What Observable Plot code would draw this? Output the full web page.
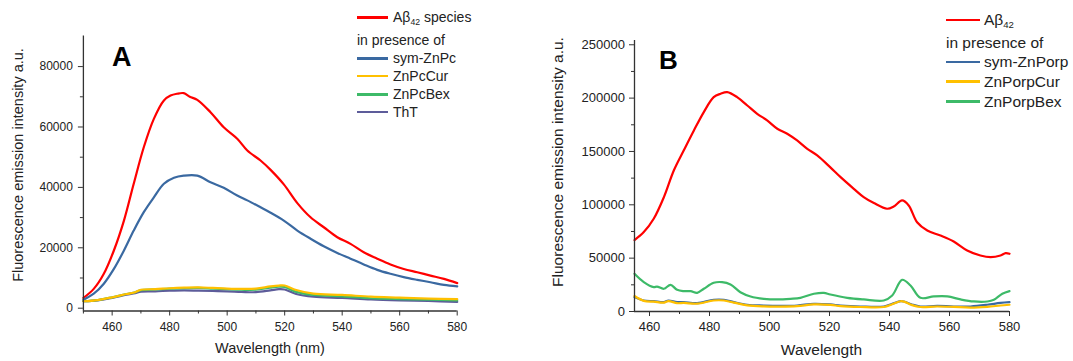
<!DOCTYPE html>
<html>
<head>
<meta charset="utf-8">
<script src="https://cdn.jsdelivr.net/npm/d3@7"></script>
<script src="https://cdn.jsdelivr.net/npm/@observablehq/plot@0.6"></script>
<style>
  html, body { margin: 0; padding: 0; background: #fff; }
  #root { position: relative; width: 1073px; height: 361px; background: #fff; overflow: hidden;
          font-family: "Liberation Sans", Arial, sans-serif; color: #222; }
  .abs { position: absolute; white-space: nowrap; line-height: 1; }
  .row { position: absolute; display: flex; align-items: center; white-space: nowrap; line-height: 1; }
  .sw { display: inline-block; height: 2.8px; }
  sub { font-size: 0.62em; vertical-align: -0.3em; line-height: 0; }
</style>
</head>
<body>
<div id="root"></div>
<script>
// ---------------- Panel A data (wavelength nm, intensity a.u.) ----------------
const aAbeta = [[450,3400],[453.6,6400],[457.1,11400],[460.6,19100],[464.1,29000],[467.5,41200],[471,53300],[474.5,62700],[478,68800],[480.3,70400],[482.5,71000],[484.9,71200],[487,70000],[489.6,69000],[494.2,64900],[498.8,59900],[503.5,56100],[507,52200],[511.6,48900],[515.1,45800],[519.7,41000],[524.4,34800],[529,30100],[533.6,26800],[538.3,23500],[542.9,21300],[547.5,18500],[552.2,16400],[556.8,14500],[561.4,13000],[566.1,11900],[570.7,10800],[575.4,9700],[580,8300]];
const aSymZnPc = [[450,2800],[453.6,4800],[457.1,8100],[460.6,13000],[464.1,19100],[467.5,25700],[471,31800],[474.5,36700],[478,41200],[481.5,43200],[484.9,43900],[489.6,43900],[494.2,41700],[498.8,39900],[503.5,37300],[507,35700],[511.6,33400],[515.1,31600],[519.7,29000],[524.4,25700],[529,23000],[533.6,20500],[538.3,18300],[542.9,16400],[547.5,14500],[552.2,12700],[556.8,11400],[561.4,10300],[566.1,9400],[570.7,8600],[575.4,7700],[580,7200]];
const aZnPcCur = [[450,2300],[455,2700],[460,3600],[465,4700],[468,5300],[470,6100],[475,6300],[480,6600],[485,6800],[490,6900],[495,6700],[500,6500],[505,6400],[510,6500],[515,7200],[518,7500],[520,7500],[524,6000],[530,4800],[540,4400],[550,3800],[560,3500],[570,3200],[580,3000]];
const aZnPcBex = [[450,2300],[455,2700],[460,3600],[465,4700],[468,5300],[470,6000],[475,6200],[480,6500],[485,6600],[490,6700],[495,6500],[500,6300],[505,6100],[510,6100],[515,6800],[518,7100],[520,7000],[524,5400],[530,4400],[540,3900],[550,3300],[560,3000],[570,2800],[580,2600]];
const aThT = [[450,2300],[455,2600],[460,3400],[465,4500],[468,5000],[470,5500],[475,5600],[480,5800],[485,5900],[490,5800],[495,5700],[500,5600],[505,5400],[510,5300],[515,5900],[518,6300],[520,6200],[524,4700],[530,3800],[540,3400],[550,2900],[560,2600],[570,2400],[580,2100]];

// ---------------- Panel B data ----------------
const bAbeta = [[455,67000],[458.1,74400],[461.4,86900],[464.8,107200],[468.1,132200],[471.4,150900],[474.8,169700],[478.1,186900],[481.4,200900],[483.7,204100],[485.9,205600],[489.2,200900],[492.6,193100],[495.9,185300],[499.2,179100],[502.6,171300],[505.9,166600],[509.2,160300],[512.6,152500],[515.9,146300],[520.2,135300],[523.7,125900],[528.1,115000],[531.4,107200],[534.8,101600],[539.2,96300],[541.4,98400],[544.2,104100],[546.4,99400],[549.2,83700],[552.6,75900],[557,71200],[561.4,65600],[565.9,57200],[570.3,52500],[573.7,50900],[577,52500],[578.7,54700],[580,54100]];
const bSymZnPorp = [[455,13500],[458.1,10300],[461.4,9700],[464.8,8800],[466.3,10300],[469.2,8800],[471.4,8800],[475.9,7800],[481.4,11000],[484.8,11000],[488.1,8800],[492.6,6300],[498.1,5600],[503.7,5300],[509.2,5600],[514.8,7200],[520.3,6600],[523.7,5600],[530.3,4700],[538.1,4700],[540.9,7200],[543.7,9700],[544.8,9400],[547.5,6600],[550.3,4700],[555.9,5300],[561.4,4700],[567,4700],[572.6,6300],[577,8100],[580,8800]];
const bZnPorpCur = [[455,14500],[458.1,10000],[461.4,9200],[464.8,8300],[466.3,9800],[469.2,7800],[471.4,8000],[475.9,7300],[481.4,10300],[484.8,10300],[488.1,8300],[492.6,5800],[498.1,4800],[503.7,4600],[509.2,5000],[514.8,6600],[520.3,6200],[523.7,5000],[530.3,4200],[538.1,4200],[540.9,6800],[543.7,9600],[544.8,9300],[547.5,6000],[550.3,4200],[555.9,4700],[561.4,4300],[567,3700],[572.6,4400],[577,5600],[580,6300]];
const bZnPorpBex = [[455,35300],[458.1,27500],[461.4,22800],[462.5,23400],[464.8,21300],[467,25000],[469.2,20300],[471.4,19100],[473.7,19100],[475.9,17500],[478.1,21300],[481.4,26900],[484.2,27500],[487,25300],[490.3,18100],[493.7,14100],[498.1,11900],[502.6,11300],[507,11900],[510.3,12800],[514.8,16600],[518.1,17500],[520.3,15900],[525.9,12800],[531.4,11300],[538.1,10300],[540.9,15000],[544.2,29700],[547,24400],[550.3,12800],[554.8,14100],[559.3,14100],[563.7,11300],[568.1,9400],[572.6,9400],[574.8,11000],[577.6,16600],[580,19100]];

// ---------------- Ticks ----------------
const aXMajor = [460, 480, 500, 520, 540, 560, 580];
const aXMinor = [450, 470, 490, 510, 530, 550, 570];
const aYMajor = [0, 20000, 40000, 60000, 80000];
const aYMinor = [10000, 30000, 50000, 70000];
const bXMajor = [460, 480, 500, 520, 540, 560, 580];
const bXMinor = [470, 490, 510, 530, 550, 570];
const bYMajor = [0, 50000, 100000, 150000, 200000, 250000];
const bYMinor = [25000, 75000, 125000, 175000, 225000];

// ---------------- Colours / labels ----------------
const RED = "#ff0000", BLUE = "#3a69a1", YELLOW = "#ffc000", GREEN = "#3dba68", PURPLE = "#5d5c9a";
const aSeries = [
  {data: aAbeta, color: RED},
  {data: aSymZnPc, color: BLUE},
  {data: aThT, color: PURPLE},
  {data: aZnPcBex, color: GREEN},
  {data: aZnPcCur, color: YELLOW}
];
const bSeries = [
  {data: bAbeta, color: RED},
  {data: bZnPorpBex, color: GREEN},
  {data: bSymZnPorp, color: BLUE},
  {data: bZnPorpCur, color: YELLOW}
];
const aLegend = [
  {label: "Aβ<sub>42</sub> species", color: RED},
  {label: "in presence of", color: null},
  {label: "sym-ZnPc", color: BLUE},
  {label: "ZnPcCur", color: YELLOW},
  {label: "ZnPcBex", color: GREEN},
  {label: "ThT", color: PURPLE}
];
const bLegend = [
  {label: "Aβ<sub>42</sub>", color: RED},
  {label: "in presence of", color: null},
  {label: "sym-ZnPorp", color: BLUE},
  {label: "ZnPorpCur", color: YELLOW},
  {label: "ZnPorpBex", color: GREEN}
];
const yTitle = "Fluorescence emission intensity a.u.";

const AXIS = "#333";
const fmt = d3.format("d");

function panel(o) {
  const svg = Plot.plot({
    width: o.width, height: 361,
    marginTop: o.mt, marginBottom: o.mb, marginLeft: o.ml, marginRight: o.mr,
    x: {domain: o.xDomain},
    y: {domain: o.yDomain},
    style: {fontFamily: "'Liberation Sans', Arial, sans-serif", fontSize: o.fs + "px", color: "#222", background: "transparent", overflow: "visible"},
    marks: [
      ...o.series.map(s => Plot.line(s.data, {x: d => d[0], y: d => d[1], stroke: s.color, strokeWidth: 2.2, curve: o.curve})),
      Plot.axisX(o.xMajor, {tickSize: 5, tickPadding: o.xPad, label: null, stroke: AXIS, tickFormat: fmt, fontSize: o.fs}),
      Plot.axisX(o.xMinor, {tickSize: 3, label: null, stroke: AXIS, fill: "none"}),
      Plot.axisY(o.yMajor, {tickSize: 5, tickPadding: o.yPad, label: null, stroke: AXIS, tickFormat: fmt, fontSize: o.fs}),
      Plot.axisY(o.yMinor, {tickSize: 3, label: null, stroke: AXIS, fill: "none"}),
      Plot.ruleX([o.xDomain[0]], {stroke: AXIS, strokeWidth: 1.3}),
      Plot.ruleY([o.yDomain[0]], {stroke: AXIS, strokeWidth: 1.3})
    ]
  });
  svg.style.position = "absolute";
  svg.style.left = o.left + "px";
  svg.style.top = "0px";
  return svg;
}

const root = document.getElementById("root");

root.appendChild(panel({
  left: 0, width: 536, ml: 82.9, mr: 79.3, mt: 35.5, mb: 50.5,
  xDomain: [450, 580], yDomain: [-930, 90130],
  xMajor: aXMajor, xMinor: aXMinor, yMajor: aYMajor, yMinor: aYMinor,
  series: aSeries, fs: 12, xPad: 6, yPad: 5.5, curve: "catmull-rom"
}));
root.appendChild(panel({
  left: 537, width: 536, ml: 97, mr: 64, mt: 40, mb: 50,
  xDomain: [455, 580], yDomain: [0, 254000],
  xMajor: bXMajor, xMinor: bXMinor, yMajor: bYMajor, yMinor: bYMinor,
  series: bSeries, fs: 13, xPad: 5.5, yPad: 4.5, curve: "catmull-rom"
}));

function addText(html, x, y, fs, opts = {}) {
  const d = document.createElement("div");
  d.className = "abs";
  d.innerHTML = html;
  d.style.fontSize = fs + "px";
  d.style.left = x + "px";
  d.style.top = y + "px";
  let t = "translate(-50%,-50%)";
  if (opts.rotate) t += " rotate(-90deg)";
  if (opts.left) t = "translate(0,-50%)";
  d.style.transform = t;
  if (opts.bold) d.style.fontWeight = "bold";
  d.style.color = opts.color || "#222";
  root.appendChild(d);
}

// axis titles
addText(yTitle, 17.5, 165, 14.5, {rotate: true});
addText("Wavelength (nm)", 270, 348, 14.5);
addText(yTitle, 558, 162, 15.5, {rotate: true});
addText("Wavelength", 821.5, 350, 15.5);

// panel letters
addText("A", 112, 56.5, 27, {bold: true, left: true, color: "#000"});
addText("B", 659, 59.5, 26, {bold: true, left: true, color: "#000"});

// legends
function legend(items, x, ys, fs, swW, gap) {
  items.forEach((it, i) => {
    const r = document.createElement("div");
    r.className = "row";
    r.style.left = x + "px";
    r.style.top = (ys[i] - 10) + "px";
    r.style.height = "20px";
    r.style.fontSize = fs + "px";
    if (it.color) {
      const s = document.createElement("span");
      s.className = "sw";
      s.style.width = swW + "px";
      s.style.background = it.color;
      s.style.marginRight = gap + "px";
      r.appendChild(s);
    }
    const t = document.createElement("span");
    t.innerHTML = it.label;
    r.appendChild(t);
    root.appendChild(r);
  });
}
legend(aLegend, 357, [17.3, 39.5, 58.3, 76, 94.3, 112], 14, 31, 5);
legend(bLegend, 946, [20, 42.5, 62, 81.7, 101.7], 15.5, 34, 4);
</script>
</body>
</html>
